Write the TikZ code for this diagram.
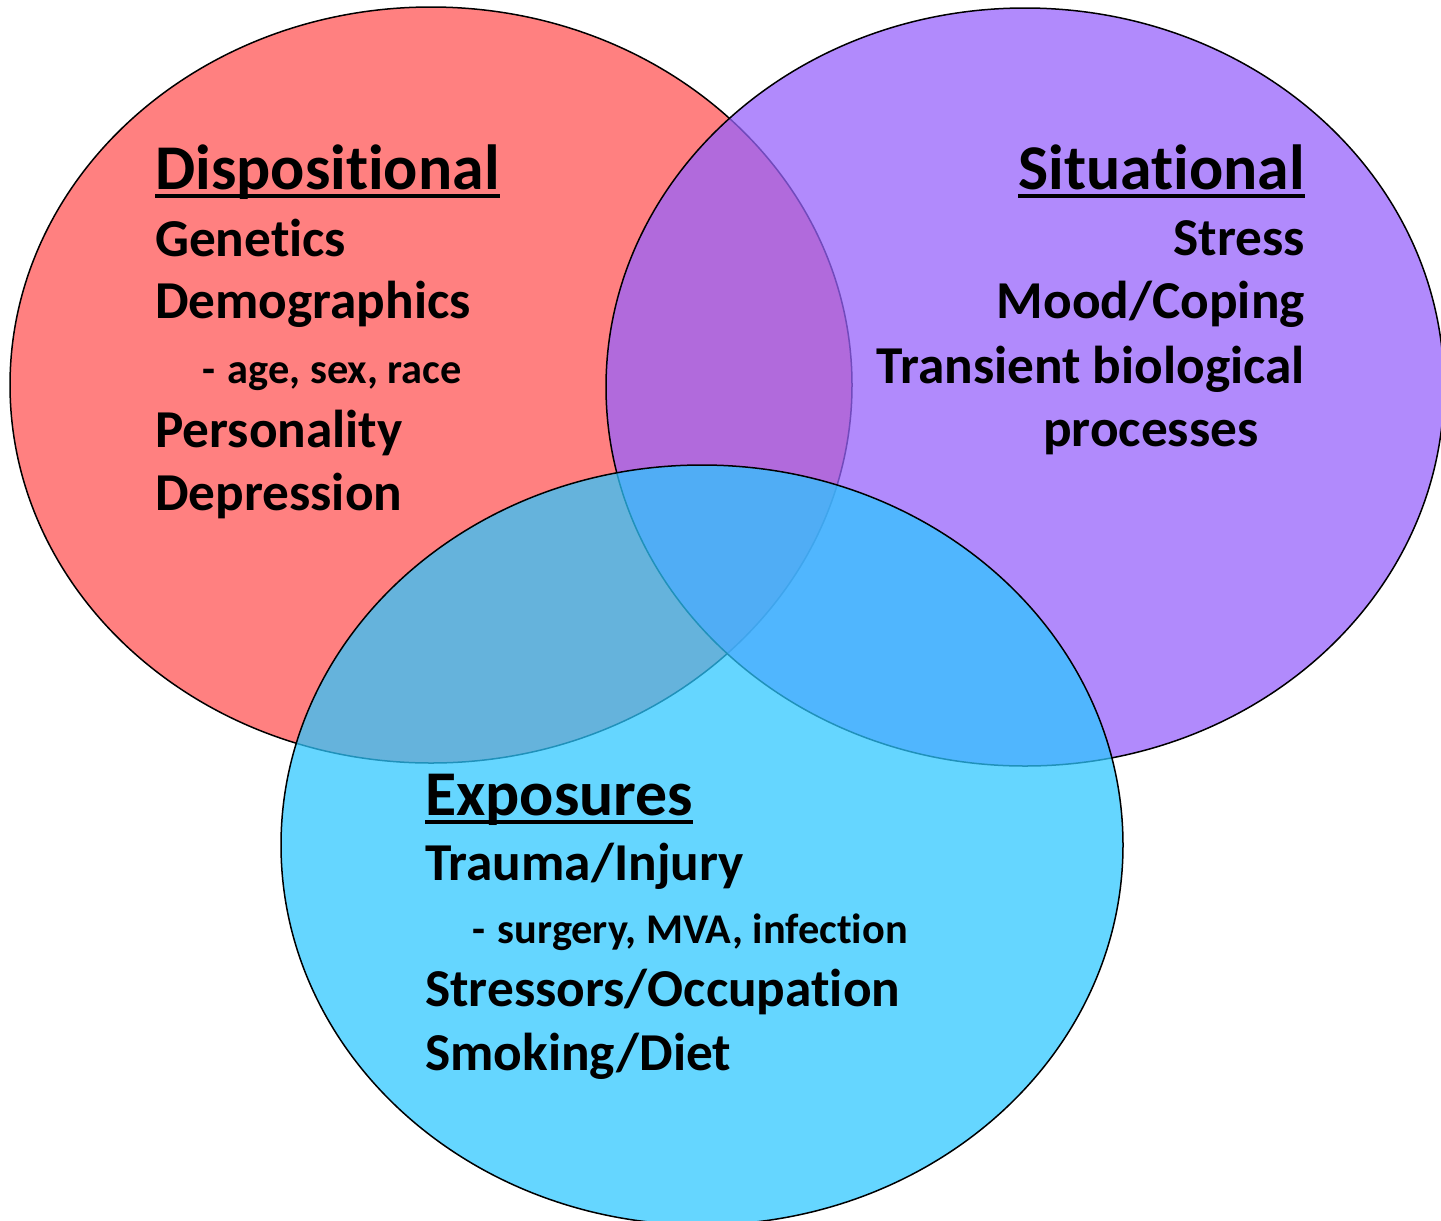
\documentclass[tikz,border=0pt]{standalone}
\usepackage{fontspec}
\setmainfont{Carlito}[RawFeature={-liga;-clig;-dlig}]
\definecolor{cred}{RGB}{255,86,86}
\definecolor{cpurple}{RGB}{151,99,251}
\definecolor{ccyan}{RGB}{45,199,255}
\begin{document}
\begin{tikzpicture}[x=1bp,y=-1bp,
  setc/.style={draw=black,line width=1.5bp,fill opacity=0.75},
  head/.style={inner sep=0pt,font=\fontsize{64}{70}\selectfont\bfseries},
  body/.style={inner sep=0pt,font=\fontsize{53.5}{62}\selectfont\bfseries},
  small/.style={inner sep=0pt,font=\fontsize{42.5}{48}\selectfont\bfseries},
  uline/.style={line width=4.5bp}]
\useasboundingbox (0,0) rectangle (1441,1220);
\fill[white] (0,0) rectangle (1441,1220);
\clip (0,0) rectangle (1441,1220);
% sets
\path[setc,fill=cred] (431,385) ellipse [x radius=421, y radius=378];
\path[setc,fill=cpurple] (1025,387) ellipse [x radius=419, y radius=379];
\path[setc,fill=ccyan,fill opacity=0.73] (702,845) ellipse [x radius=421, y radius=380];
% Dispositional
\node[head,anchor=base west] (dh) at (155,189) {Dispositional};
\draw[uline] ([yshift=-7bp]dh.base west) -- ([yshift=-7bp]dh.base east);
\node[body,anchor=base west] (d1) at (155,256) {Genetics};
\node[body,anchor=base west] (d2) at (155,318) {Demographics};
\node[small,anchor=base west] (d3) at (202,383) {-\hspace{0.3em}age, sex, race};
\node[body,anchor=base west] (d4) at (155,447) {Personality};
\node[body,anchor=base west] (d5) at (155,510) {Depression};
% Situational
\node[head,anchor=base east] (sh) at (1305,189) {Situational};
\draw[uline] ([yshift=-7bp]sh.base west) -- ([yshift=-7bp]sh.base east);
\node[body,anchor=base east] (s1) at (1305,255) {Stress};
\node[body,anchor=base east] (s2) at (1305,318) {Mood/Coping};
\node[body,anchor=base east] (s3) at (1305,383) {Transient biological};
\node[body,anchor=base west] (s4) at (1043,446) {processes};
% Exposures
\node[head,anchor=base west] (eh) at (425,815) {Exposures};
\draw[uline] ([yshift=-7bp]eh.base west) -- ([yshift=-7bp]eh.base east);
\node[body,anchor=base west] (e1) at (425,880) {Trauma/Injury};
\node[small,anchor=base west] (e2) at (472,943) {-\hspace{0.3em}surgery, MVA, infection};
\node[body,anchor=base west] (e3) at (425,1006) {Stressors/Occupation};
\node[body,anchor=base west] (e4) at (425,1070) {Smoking/Diet};
\end{tikzpicture}
\end{document}
